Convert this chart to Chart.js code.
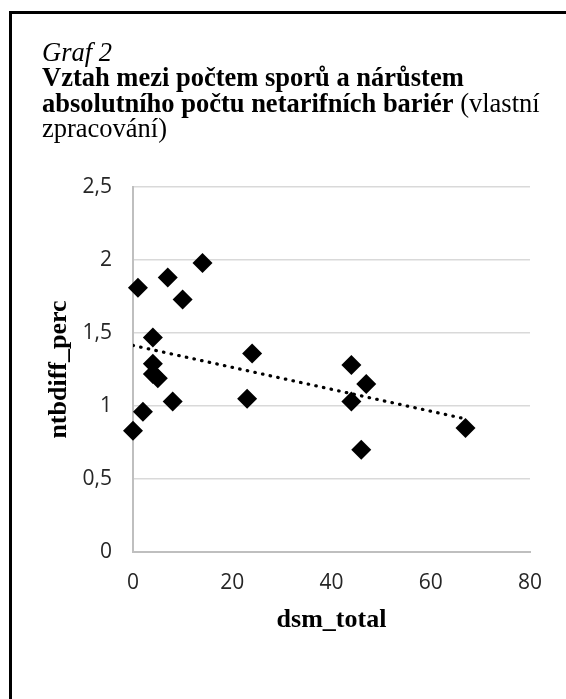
<!DOCTYPE html>
<html lang="cs">
<head>
<meta charset="utf-8">
<title>Graf 2</title>
<script src="https://cdn.jsdelivr.net/npm/chart.js@4.4.1/dist/chart.umd.min.js"></script>
<style>
    html, body { margin: 0; padding: 0; background: #fff; overflow: hidden; }
    #wrap { position: relative; width: 566px; height: 699px; }
    #chart { position: absolute; left: 0; top: 0; }
    #frame {
        position: absolute; left: 9px; top: 11px; width: 620px; height: 760px;
        border: 3px solid #000; pointer-events: none;
    }
    #heading {
        position: absolute; left: 42px; top: 40px;
        font-family: "Liberation Serif", "Times New Roman", serif;
        font-size: 26.5px; line-height: 25.4px; color: #000;
    }
    #heading div { white-space: nowrap; }
</style>
</head>
<body>
<div id="wrap">
    <canvas id="chart" width="566" height="699"></canvas>
    <div id="frame"></div>
    <div id="heading">
        <div><i>Graf 2</i></div>
        <div><b>Vztah mezi počtem sporů a nárůstem</b></div>
        <div><b>absolutního počtu netarifních bariér</b> (vlastní</div>
        <div>zpracování)</div>
    </div>
</div>
<script>
// data
const dsmTotal    = [0, 1, 2, 4, 4, 4, 5, 7, 8, 10, 14, 23, 24, 44, 44, 46, 47, 67];
const ntbdiffPerc = [0.83, 1.81, 0.96, 1.47, 1.29, 1.22, 1.19, 1.88, 1.03, 1.73, 1.98, 1.05, 1.36, 1.28, 1.03, 0.70, 1.15, 0.85];
const xTickLabels = ['0', '20', '40', '60', '80'];
const yTickLabels = ['0', '0,5', '1', '1,5', '2', '2,5'];

const points = dsmTotal.map((x, i) => ({ x: x, y: ntbdiffPerc[i] }));

// linear trendline (least squares), like the one Excel adds
function trendLine(xs, ys) {
    const n = xs.length;
    const mx = xs.reduce((a, b) => a + b, 0) / n;
    const my = ys.reduce((a, b) => a + b, 0) / n;
    let sxy = 0, sxx = 0;
    xs.forEach((x, i) => {
        sxy += (x - mx) * (ys[i] - my);
        sxx += (x - mx) * (x - mx);
    });
    const slope = sxy / sxx;
    const icpt = my - slope * mx;
    const x0 = Math.min(...xs), x1 = Math.max(...xs);
    return [{ x: x0, y: icpt + slope * x0 }, { x: x1, y: icpt + slope * x1 }];
}

const tickFont = { family: '"Open Sans", sans-serif', size: 21 };
const titleFont = { family: '"Liberation Serif", "Times New Roman", serif', size: 26, weight: 'bold' };

new Chart(document.getElementById('chart'), {
    type: 'scatter',
    data: {
        datasets: [
            {
                label: 'trend',
                data: trendLine(dsmTotal, ntbdiffPerc),
                showLine: true,
                pointRadius: 0,
                borderColor: '#000',
                borderWidth: 3.2,
                borderDash: [0.5, 7.3],
                borderCapStyle: 'round',
                order: 0
            },
            {
                label: 'ntbdiff_perc',
                data: points,
                pointStyle: 'rectRot',
                pointRadius: 10,
                pointHoverRadius: 10,
                backgroundColor: '#000',
                borderColor: '#000',
                borderWidth: 0,
                clip: false,
                order: 1
            }
        ]
    },
    options: {
        responsive: false,
        animation: false,
        events: [],
        layout: {
            padding: { left: 0, top: 187, right: 36, bottom: 57 }
        },
        plugins: {
            legend: { display: false },
            tooltip: { enabled: false }
        },
        scales: {
            x: {
                type: 'linear',
                min: 0,
                max: 80,
                afterFit(scale) { scale.height = 90; },
                grid: { display: false, drawTicks: false },
                border: { display: true, color: '#bfbfbf', width: 2 },
                ticks: {
                    stepSize: 20,
                    padding: 18,
                    color: '#262626',
                    font: tickFont,
                    callback: (v, i) => xTickLabels[i]
                },
                title: {
                    display: true,
                    text: 'dsm_total',
                    color: '#000',
                    font: titleFont,
                    padding: { top: 0, bottom: 6 }
                }
            },
            y: {
                type: 'linear',
                min: 0,
                max: 2.5,
                afterFit(scale) { scale.width = 133; },
                grid: { color: '#d9d9d9', lineWidth: 1.5, drawTicks: false },
                border: { display: true, color: '#bfbfbf', width: 2 },
                ticks: {
                    stepSize: 0.5,
                    padding: 21,
                    color: '#262626',
                    font: tickFont,
                    callback: (v, i) => yTickLabels[i]
                },
                title: {
                    display: true,
                    text: 'ntbdiff_perc',
                    color: '#000',
                    font: titleFont,
                    padding: { top: 44, bottom: 0 }
                }
            }
        }
    }
});
</script>
</body>
</html>
